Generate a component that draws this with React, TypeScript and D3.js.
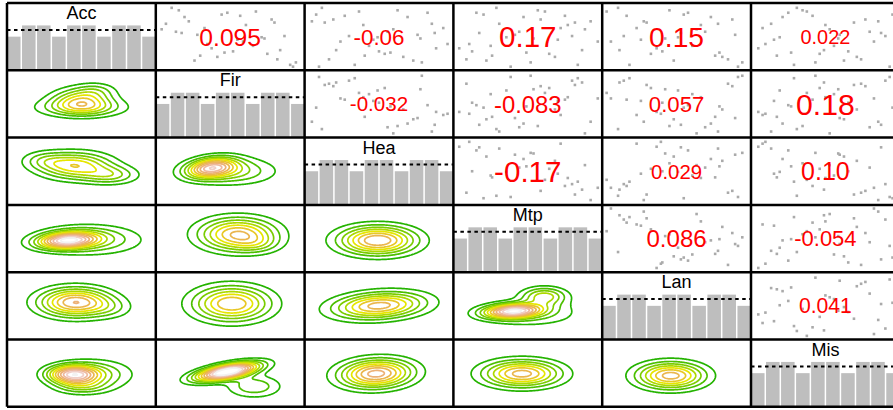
import React from "react";
import * as d3 from "d3";

const variables = ["Acc", "Fir", "Hea", "Mtp", "Lan", "Mis"];

const acc = [5.3, 0.4, 8.6, 2.2, 7.1, 4.2, 9.3, 1.3, 6.4, 3.5, 5.1, 8.2, 2.6, 0.8, 7.5, 4.9, 1.7, 9.7, 6.9, 3.1, 5.8, 2.8, 8.9, 7.8, 1.1, 4.5, 0.1, 6.2, 9.1, 3.8, 7.3, 2.4, 5.6, 8.4, 1.9, 4.7];
const fir = [2.7, 9.2, 4.4, 7.6, 0.5, 5.9, 1.4, 8.3, 3.2, 6.6, 8.8, 1.8, 5.2, 9.6, 2.1, 7.2, 4.1, 0.9, 6.1, 3.7, 1.2, 8.5, 4.8, 7.9, 2.5, 5.5, 9.4, 0.2, 6.8, 3.4, 8.1, 4.6, 1.6, 5.7, 2.9, 7.4];
const hea = [7.7, 3.3, 0.6, 5.4, 8.7, 2.3, 6.3, 1.5, 9.5, 4.3, 2.9, 7.0, 5.0, 8.0, 0.3, 4.9, 6.7, 1.0, 3.9, 9.0, 5.6, 2.0, 8.4, 1.8, 7.4, 4.6, 0.8, 6.0, 3.6, 9.8, 1.2, 5.8, 8.9, 2.6, 4.0, 7.9];
const mtp = [4.1, 8.5, 1.9, 6.5, 3.0, 9.9, 5.7, 0.7, 7.3, 2.4, 8.1, 4.7, 1.1, 5.2, 9.4, 3.5, 6.9, 2.8, 7.8, 0.2, 4.4, 8.8, 1.4, 5.9, 2.1, 7.1, 3.8, 9.0, 6.2, 0.9, 8.3, 4.9, 1.6, 7.6, 2.5, 5.4];
const lan = [9.1, 1.7, 5.5, 3.2, 7.9, 0.4, 4.5, 8.6, 2.2, 6.1, 1.3, 7.4, 4.0, 9.6, 2.7, 5.1, 8.2, 0.9, 6.7, 3.6, 7.0, 1.0, 5.8, 8.9, 4.8, 2.5, 9.3, 6.4, 0.1, 3.9, 2.9, 8.0, 5.3, 1.5, 7.7, 4.2];
const mis = [6.0, 2.8, 9.7, 4.6, 1.2, 8.4, 3.4, 7.5, 0.6, 5.6, 9.2, 2.0, 6.6, 4.3, 8.7, 1.8, 7.2, 3.0, 5.0, 0.3, 8.1, 4.9, 2.4, 7.8, 6.3, 1.4, 9.5, 5.3, 3.7, 0.8, 7.0, 2.6, 8.9, 4.1, 1.6, 5.9];
const columns = [acc, fir, hea, mtp, lan, mis];

// upper triangle, row-major
const corLabels = ["0.095", "-0.06", "0.17", "0.15", "0.022", "-0.032", "-0.083", "0.057", "0.18", "-0.17", "0.029", "0.10", "0.086", "-0.054", "0.041"];

// lower triangle density components, row-major: [cx, cy, sx, sy, rho, peak]
const kde21 = [[5.0, 5.5, 1.3, 1.2, 0, 0.5], [5.0, 4.4, 1.9, 0.9, 0, 0.32], [6.0, 7.0, 0.9, 0.8, 0, 0.15]];
const kde31 = [[4.6, 5.8, 1.6, 1.3, 0, 0.58], [7.0, 4.4, 1.2, 0.9, 0, 0.3], [2.5, 6.6, 1.0, 0.9, 0, 0.18]];
const kde32 = [[3.7, 5.5, 1.1, 1.0, 0.3, 0.75], [5.0, 5.0, 1.9, 1.3, 0, 0.35]];
const kde41 = [[4.0, 4.7, 1.3, 0.8, 0.2, 0.9], [5.5, 4.8, 2.2, 1.4, 0, 0.35]];
const kde42 = [[5.5, 5.6, 1.7, 1.6, 0, 0.72], [6.8, 4.2, 1.0, 0.9, 0, 0.15]];
const kde43 = [[4.9, 4.7, 1.7, 1.4, 0, 0.8]];
const kde51 = [[4.6, 5.5, 1.6, 1.4, 0, 0.8], [7.0, 4.6, 1.0, 1.0, 0, 0.12]];
const kde52 = [[5.1, 5.3, 1.7, 1.7, 0, 0.7]];
const kde53 = [[5.0, 5.0, 2.0, 1.3, 0.2, 0.75]];
const kde54 = [[4.0, 4.2, 1.3, 0.7, 0.2, 1.0], [6.1, 6.4, 1.0, 0.9, 0, 0.45], [5.2, 3.8, 2.2, 1.3, 0, 0.2]];
const kde61 = [[4.4, 4.8, 1.1, 0.9, 0, 0.9], [6.0, 4.8, 1.6, 1.4, 0, 0.3], [5.0, 3.0, 1.2, 0.8, 0, 0.25]];
const kde62 = [[4.8, 5.2, 1.4, 0.9, 0.6, 1.3], [6.6, 3.0, 1.2, 1.1, 0, 0.28]];
const kde63 = [[4.8, 4.9, 1.6, 1.4, 0.1, 0.85]];
const kde64 = [[4.6, 4.9, 1.7, 1.3, 0, 0.75]];
const kde65 = [[4.6, 4.6, 1.5, 1.3, 0, 0.75]];
const lowerKde = [kde21, kde31, kde32, kde41, kde42, kde43, kde51, kde52, kde53, kde54, kde61, kde62, kde63, kde64, kde65];

const contourLevels = d3.range(1, 12).map((k) => k * 0.1);

const X0 = 7;
const Y0 = 3;
const CW = 148.8;
const CH = 67.3;
const FONT = "'Liberation Sans', Arial, Helvetica, sans-serif";

function hsv(h: number, s: number, v: number): string {
  const i = Math.floor(h * 6) % 6;
  const f = h * 6 - Math.floor(h * 6);
  const p = v * (1 - s), q = v * (1 - f * s), t = v * (1 - (1 - f) * s);
  const rgb = [[v, t, p], [q, v, p], [p, v, t], [p, q, v], [t, p, v], [v, p, q]][i];
  return d3.rgb(rgb[0] * 255, rgb[1] * 255, rgb[2] * 255).formatHex();
}

function terrainColors(n: number): string[] {
  const k = Math.floor(n / 2);
  const seq = (a: number, b: number, len: number) =>
    len === 1 ? [a] : d3.range(len).map((i) => a + ((b - a) * i) / (len - 1));
  const h1 = seq(4 / 12, 2 / 12, k), s1 = seq(1, 1, k), v1 = seq(0.65, 0.9, k);
  const m = n - k + 1;
  const h2 = seq(2 / 12, 0, m).slice(1), s2 = seq(1, 0, m).slice(1), v2 = seq(0.9, 0.95, m).slice(1);
  return [...h1.map((h, i) => hsv(h, s1[i], v1[i])), ...h2.map((h, i) => hsv(h, s2[i], v2[i]))];
}

const palette = terrainColors(contourLevels.length + 1);

function densityGrid(comps: number[][], nx: number, ny: number) {
  const xs = d3.scaleLinear().domain([0, 10]).range([0, nx]);
  const ys = d3.scaleLinear().domain([0, 10]).range([ny, 0]);
  const vals = new Array(nx * ny);
  for (let j = 0; j < ny; j++) {
    const y = ys.invert(j + 0.5);
    for (let i = 0; i < nx; i++) {
      const x = xs.invert(i + 0.5);
      let v = 0;
      for (const [cx, cy, sx, sy, r, w] of comps) {
        const dx = (x - cx) / sx, dy = (y - cy) / sy;
        const q = (dx * dx - 2 * r * dx * dy + dy * dy) / (1 - r * r);
        v += w * Math.exp(-q / 2);
      }
      vals[j * nx + i] = v;
    }
  }
  return vals;
}

export default function App() {
  const n = variables.length;
  const items: React.ReactNode[] = [];
  let upperIdx = 0;
  let lowerIdx = 0;
  const path = d3.geoPath();

  for (let i = 0; i < n; i++) {
    for (let j = 0; j < n; j++) {
      const cl = X0 + j * CW;
      const ct = Y0 + i * CH;
      const key = `c${i}-${j}`;
      if (i === j) {
        const counts = d3.bin().domain([0, 10]).thresholds(d3.range(1, 10))(columns[i]).map((b) => b.length);
        const meanCount = d3.mean(counts) as number;
        const xb = d3.scaleBand<number>().domain(d3.range(counts.length)).range([cl, cl + CW]).paddingInner(0.1).paddingOuter(0);
        const yb = d3.scaleLinear().domain([0, 6]).range([ct + CH, ct]);
        items.push(
          <g key={key}>
            {counts.map((c, k) => (
              <rect key={k} x={xb(k)} y={yb(c)} width={xb.bandwidth()} height={yb(0) - yb(c)} fill="#bebebe" />
            ))}
            <line x1={cl} x2={cl + CW} y1={yb(meanCount)} y2={yb(meanCount)} stroke="#000" strokeWidth={2} strokeDasharray="3.5,3.5" />
            <text x={cl + CW / 2} y={ct + 16} textAnchor="middle" fontFamily={FONT} fontSize={18} fill="#000">
              {variables[i]}
            </text>
          </g>
        );
      } else if (i < j) {
        const label = corLabels[upperIdx++];
        const r = Math.abs(Number(label));
        const fs = 18.5 + 65 * r;
        const xs = d3.scaleLinear().domain([0, 10]).range([cl + 3, cl + CW - 3]);
        const ys = d3.scaleLinear().domain([0, 10]).range([ct + CH - 3, ct + 3]);
        const xv = columns[j], yv = columns[i];
        items.push(
          <g key={key}>
            {xv.map((x, k) => (
              <rect key={k} x={xs(x) - 1.3} y={ys(yv[k]) - 1.3} width={2.6} height={2.6} fill="#aaaaaa" />
            ))}
            <text x={cl + CW / 2} y={ct + CH / 2 + fs * 0.36} textAnchor="middle" fontFamily={FONT} fontSize={fs} fill="#ff0000">
              {label}
            </text>
          </g>
        );
      } else {
        const comps = lowerKde[lowerIdx++];
        const nx = Math.round(CW), ny = Math.round(CH);
        const vals = densityGrid(comps, nx, ny);
        const cs = d3.contours().size([nx, ny]).thresholds(contourLevels)(vals);
        items.push(
          <g key={key} transform={`translate(${cl},${ct})`}>
            {cs.map((c, k) =>
              c.coordinates.length ? (
                <path key={k} d={path(c as any) || ""} fill="none" stroke={palette[k + 1]} strokeWidth={1.7} strokeLinejoin="round" />
              ) : null
            )}
          </g>
        );
      }
    }
  }

  const vlines = d3.range(n + 1).map((k) => X0 + k * CW);
  const hlines = d3.range(n + 1).map((k) => Y0 + k * CH);

  return (
    <svg width={893} height={410} style={{ position: "absolute", left: 0, top: 0, background: "#fff" }}>
      <rect x={0} y={0} width={893} height={410} fill="#fff" />
      {items}
      {vlines.map((x, k) => (
        <line key={`v${k}`} x1={x} x2={x} y1={Y0} y2={Y0 + n * CH} stroke="#000" strokeWidth={2.5} />
      ))}
      {hlines.map((y, k) => (
        <line key={`h${k}`} x1={X0} x2={X0 + n * CW} y1={y} y2={y} stroke="#000" strokeWidth={2.5} />
      ))}
    </svg>
  );
}
